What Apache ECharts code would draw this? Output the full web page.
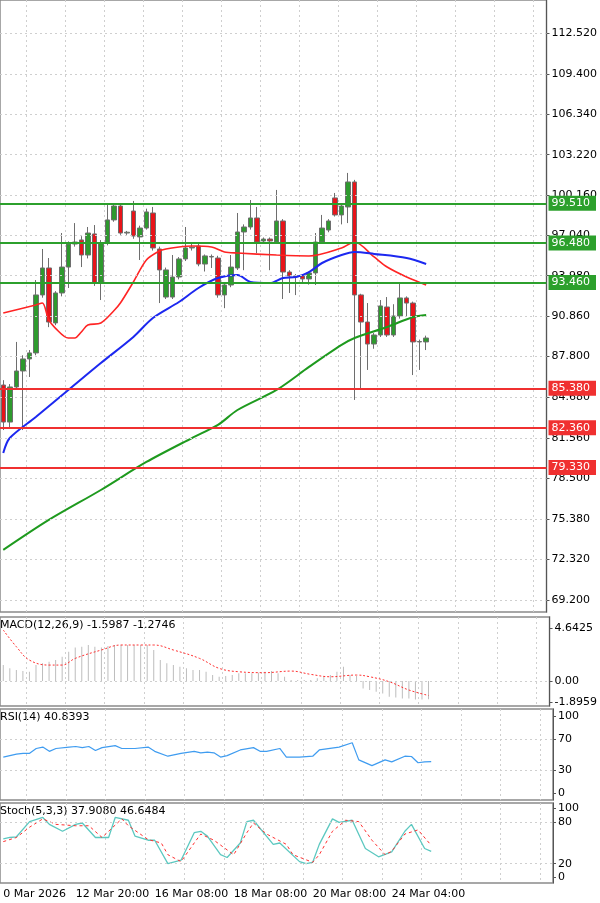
<!DOCTYPE html>
<html>
<head>
<meta charset="utf-8">
<script src="https://cdn.jsdelivr.net/npm/echarts@6/dist/echarts.min.js"></script>
<style>html,body{margin:0;padding:0;background:#fff}#main{width:600px;height:903px}</style>
</head>
<body>
<div id="main"></div>
<script>
// H4 candles: [open, close, low, high]
var candles = [
  [85.63, 82.80, 82.19, 86.00], [82.80, 85.48, 82.40, 85.70], [85.48, 86.70, 85.30, 88.92], [86.70, 87.62, 82.19, 87.90],
  [87.62, 88.08, 86.24, 88.30], [88.08, 92.51, 87.90, 93.65], [92.51, 94.57, 92.30, 96.02], [94.57, 90.44, 90.05, 95.33],
  [90.37, 92.66, 90.20, 92.80], [92.66, 94.64, 92.40, 97.24], [94.64, 96.40, 93.04, 96.60], [96.40, 96.55, 96.20, 98.00],
  [96.71, 95.56, 94.64, 97.00], [95.56, 97.24, 95.30, 97.70], [97.17, 93.42, 93.20, 97.85], [93.42, 96.48, 92.12, 96.70],
  [96.48, 98.24, 96.30, 99.38], [98.24, 99.30, 98.10, 99.50], [99.30, 97.24, 97.10, 99.50], [97.24, 97.30, 97.10, 97.40],
  [98.92, 97.01, 96.80, 99.69], [96.94, 97.62, 95.18, 97.80], [97.62, 98.85, 97.50, 99.10], [98.77, 96.10, 95.90, 99.23],
  [96.02, 94.42, 91.89, 96.20], [92.35, 94.42, 92.20, 94.60], [92.35, 93.88, 92.20, 95.56], [93.88, 95.26, 93.70, 95.40],
  [95.26, 96.10, 95.10, 97.70], [96.10, 96.15, 95.90, 96.40], [96.25, 94.87, 94.70, 96.40], [94.87, 95.49, 94.30, 95.60],
  [95.41, 95.45, 94.57, 95.60], [95.33, 92.51, 92.30, 95.50], [92.51, 93.27, 91.50, 93.40], [93.27, 94.64, 93.10, 95.56],
  [94.57, 97.32, 94.42, 98.77], [97.32, 97.70, 94.40, 97.90], [97.70, 98.39, 97.50, 99.76], [98.39, 96.55, 95.70, 99.23],
  [96.63, 96.78, 96.50, 96.90], [96.78, 96.63, 94.40, 96.90], [96.55, 98.16, 96.40, 100.53], [98.16, 94.26, 92.20, 98.30],
  [94.26, 93.96, 92.66, 94.40], [93.96, 93.90, 92.50, 94.10], [93.96, 93.73, 93.40, 94.00], [93.73, 94.19, 93.30, 94.30],
  [94.19, 96.55, 93.27, 97.24], [96.55, 97.62, 96.40, 98.62], [97.47, 98.16, 97.30, 98.30], [99.92, 98.62, 98.50, 100.30],
  [98.62, 99.30, 97.90, 99.50], [99.23, 101.14, 98.00, 101.83], [101.14, 92.51, 84.49, 101.30], [92.51, 90.44, 85.25, 92.60],
  [90.44, 88.76, 86.78, 91.89], [88.76, 89.45, 88.40, 89.60], [89.45, 91.67, 89.30, 92.12], [91.59, 89.45, 89.30, 92.35],
  [89.45, 90.90, 89.30, 91.80], [90.90, 92.28, 90.70, 93.42], [92.28, 91.89, 90.90, 92.40], [91.89, 88.92, 86.39, 92.00],
  [88.92, 88.95, 86.78, 89.10], [88.92, 89.22, 88.30, 89.40]
];
// moving averages read as [candle index, value]
var maRed = [[0,91.13],[5,91.74],[6,91.89],[7,90.60],[8,89.98],[10,89.22],[11,89.22],[12,89.68],[13,90.21],[15,90.37],[17,91.3],[18,91.89],[20,93.50],[22,95.18],[24,95.87],[25,96.02],[27,96.17],[29,96.25],[32,96.17],[34,95.79],[36,95.71],[42,95.56],[47,95.49],[52,96.10],[54,96.55],[57,95.41],[59,94.64],[62,93.88],[65,93.27]];
var maBlue = [[0,80.44],[1,81.58],[5,83.19],[10,85.25],[15,87.31],[20,89.30],[23,90.75],[27,91.97],[30,93.04],[33,93.80],[36,94.03],[38,93.50],[41,93.42],[43,93.80],[45,93.88],[47,94.26],[49,94.95],[52,95.56],[54,95.79],[57,95.64],[62,95.33],[65,94.87]];
var maGreen = [[0,73.03],[7,75.32],[15,77.61],[22,79.75],[29,81.58],[33,82.58],[36,83.72],[42,85.25],[47,87.01],[52,88.69],[54,89.22],[59,90.06],[63,90.83],[65,90.98]];
var resistLevels = [99.51, 96.48, 93.46];
var supportLevels = [85.38, 82.36, 79.33];
var lastPrice = 89.185;
var priceTicks = [112.52, 109.40, 106.34, 103.22, 100.16, 97.04, 93.98, 90.86, 87.80, 84.68, 81.56, 78.50, 75.38, 72.32, 69.20];

var macdHist = [1.41,1.12,0.97,0.88,0.82,1.41,1.56,1.71,1.85,2.15,2.59,2.97,3.03,3.18,3.03,2.97,3.09,3.18,3.18,3.18,3.18,3.18,3.18,2.74,1.85,1.56,1.41,1.26,1.12,0.97,0.97,0.82,0.53,0.38,0.44,0.53,0.68,0.68,0.68,0.74,0.82,0.88,0.68,0.38,0.09,0.09,0.09,0.09,0.24,0.38,0.53,0.82,1.26,0.53,0.44,-0.65,-0.79,-0.94,-1.09,-1.38,-1.44,-1.53,-1.53,-1.62,-1.62,-1.60];
var macdSignal = [[0,4.5],[2,3.03],[4,1.85],[7,1.41],[9,1.41],[11,2.0],[15,2.74],[18,3.18],[21,3.18],[23,3.18],[26,2.74],[30,2.0],[33,1.12],[36,0.82],[40,0.74],[44,0.88],[47,0.59],[50,0.38],[54,0.53],[56,0.38],[59,-0.06],[62,-0.79],[65,-1.27]];
var rsi = [[0,46.7],[2,50.4],[3,51.5],[4,51.5],[5,57.8],[6,59.6],[7,54.1],[8,57.8],[10,59.6],[11,60.4],[12,58.9],[13,60.4],[14,55.2],[15,58.9],[17,61.5],[18,57.8],[20,57.8],[22,59.6],[23,54.1],[25,47.8],[27,51.5],[29,54.1],[30,52.2],[31,53],[32,52.2],[33,46.7],[34,48.5],[36,55.9],[38,58.9],[39,54.1],[40,54.1],[42,57.8],[43,46.7],[45,46.7],[47,47.8],[48,55.9],[51,59.6],[53,65.2],[54,43],[56,35.6],[58,43],[59,40.4],[61,47.8],[62,47.4],[63,39.3],[64,40.4],[65,40.8]];
var stochMain = [[0,56],[1,58],[2,59],[4,81],[6,87],[7,77],[9,67],[11,77],[12,79],[14,58],[16,58],[17,87],[19,83],[20,60],[22,54],[23,54],[25,20],[27,25],[29,65],[30,67],[31,60],[33,33],[34,29],[36,50],[37,81],[38,83],[41,48],[42,50],[45,23],[46,20],[47,22],[48,48],[50,85],[51,80],[53,83],[55,42],[57,30],[59,37],[61,67],[62,77],[64,42],[65,37.9]];
var stochSignal = [[0,52],[2,58],[4,73],[6,85],[8,77],[11,75],[13,75],[15,58],[18,85],[19,75],[22,55],[24,50],[25,33],[27,23],[29,50],[30,63],[32,54],[35,33],[37,65],[38,79],[40,63],[43,48],[44,33],[47,22],[48,33],[50,67],[52,83],[54,81],[56,54],[58,33],[59,38],[61,63],[63,69],[65,46.6]];
var timeLabels = {0: '0 Mar 2026', 11: '12 Mar 20:00', 23: '16 Mar 08:00', 35: '18 Mar 08:00', 47: '20 Mar 08:00', 59: '24 Mar 04:00'};

var nCat = 84;
var cats = [];
for (var i = 0; i < nCat; i++) cats.push(String(i));

var font = 'Tahoma, "DejaVu Sans", sans-serif';
var grids = [
  {left: -2, right: 47, top: 0, height: 612},
  {left: -2, right: 47, top: 617, height: 89},
  {left: -2, right: 47, top: 709, height: 91},
  {left: -2, right: 47, top: 803, height: 80}
].map(function (g) {
  g.show = true; g.borderColor = '#8a8a8a'; g.borderWidth = 1.5; return g;
});

function xAx(idx, last) {
  return {
    type: 'category', gridIndex: idx, data: cats, boundaryGap: true,
    axisLine: {show: false}, axisTick: {show: false},
    splitLine: {show: true, interval: function (i) { return i % 6 === 4; }, lineStyle: {color: '#cfcfcf', type: [2, 3]}},
    axisLabel: last ? {
      show: true, interval: 0, align: 'left', margin: 6, fontSize: 11, fontFamily: font, color: '#000',
      formatter: function (v, i) { return timeLabels[i] || ''; }
    } : {show: false}
  };
}
function yAx(idx, min, max, ticks, fmt) {
  return {
    type: 'value', gridIndex: idx, position: 'right', min: min, max: max,
    axisLine: {show: true, lineStyle: {color: '#555'}},
    axisTick: {show: true, customValues: ticks, length: 3, lineStyle: {color: '#555'}},
    splitLine: {show: false},
    axisLabel: {customValues: ticks, fontSize: 11, fontFamily: font, color: '#000', margin: 5, formatter: fmt}
  };
}
function hLines(vals) {
  return {silent: true, symbol: 'none', label: {show: false},
    lineStyle: {color: '#cfcfcf', type: [2, 3], width: 1},
    data: vals.map(function (v) { return {yAxis: v}; })};
}
function levelLine(v, color) {
  return {yAxis: v, lineStyle: {color: color, width: 2, type: 'solid'},
    label: {show: true, position: 'end', formatter: v.toFixed(3), color: '#fff', backgroundColor: color,
      padding: [2, 6, 2, 3], fontSize: 11, fontFamily: font, distance: 2}};
}
var levelData = resistLevels.map(function (v) { return levelLine(v, '#2ca02c'); })
  .concat(supportLevels.map(function (v) { return levelLine(v, '#f03030'); }));
levelData.push({yAxis: lastPrice, lineStyle: {opacity: 0},
  label: {show: true, position: 'end', formatter: lastPrice.toFixed(3), color: '#fff', backgroundColor: '#000',
    padding: [2, 6, 2, 3], fontSize: 11, fontFamily: font, distance: 2}});

var labelTxt = function (t, y) {
  return {type: 'text', left: 0, top: y, style: {text: t, font: '11px ' + font, fill: '#000'}};
};

var myChart = echarts.init(document.getElementById('main'));
myChart.setOption({
  backgroundColor: '#fff',
  animation: false,
  grid: grids,
  xAxis: [xAx(0), xAx(1), xAx(2), xAx(3, true)],
  yAxis: [
    yAx(0, 68.29, 115.04, priceTicks, function (v) { return v.toFixed(3); }),
    yAx(1, -2.2, 5.65, [4.6425, 0, -1.8959], function (v) { return v === 0 ? '0.00' : String(v); }),
    yAx(2, -9, 109, [100, 70, 30, 0], function (v) { return String(v); }),
    yAx(3, -8, 108, [100, 80, 20, 0], function (v) { return String(v); })
  ],
  graphic: [
    labelTxt('MACD(12,26,9) -1.5987 -1.2746', 620),
    labelTxt('RSI(14) 40.8393', 712),
    labelTxt('Stoch(5,3,3) 37.9080 46.6484', 806)
  ],
  series: [
    {type: 'line', xAxisIndex: 0, yAxisIndex: 0, data: [], markLine: hLines(priceTicks)},
    {type: 'candlestick', xAxisIndex: 0, yAxisIndex: 0, data: candles, barWidth: 5,
      itemStyle: {color: '#2e9a2e', color0: '#e8141a', borderColor: '#6e6e6e', borderColor0: '#6e6e6e', borderWidth: 1},
      markLine: {silent: true, symbol: 'none', data: levelData}},
    {type: 'line', xAxisIndex: 0, yAxisIndex: 0, data: maRed, showSymbol: false, smooth: 0.3, lineStyle: {color: '#ff2424', width: 1.6}},
    {type: 'line', xAxisIndex: 0, yAxisIndex: 0, data: maBlue, showSymbol: false, smooth: 0.3, lineStyle: {color: '#1c28f0', width: 2}},
    {type: 'line', xAxisIndex: 0, yAxisIndex: 0, data: maGreen, showSymbol: false, smooth: 0.3, lineStyle: {color: '#1e9a1e', width: 2}},
    {type: 'bar', xAxisIndex: 1, yAxisIndex: 1, data: macdHist, barWidth: 1, itemStyle: {color: '#bdbdbd'},
      markLine: hLines([0])},
    {type: 'line', xAxisIndex: 1, yAxisIndex: 1, data: macdSignal, showSymbol: false, smooth: 0.4,
      lineStyle: {color: '#ff3030', width: 1, type: [2, 2]}},
    {type: 'line', xAxisIndex: 2, yAxisIndex: 2, data: rsi, showSymbol: false,
      lineStyle: {color: '#3f9cf0', width: 1.2}, markLine: hLines([70, 30])},
    {type: 'line', xAxisIndex: 3, yAxisIndex: 3, data: stochMain, showSymbol: false,
      lineStyle: {color: '#5cc8c0', width: 1.3}, markLine: hLines([80, 20])},
    {type: 'line', xAxisIndex: 3, yAxisIndex: 3, data: stochSignal, showSymbol: false,
      lineStyle: {color: '#ff3030', width: 1, type: [3, 3]}}
  ]
});
</script>
</body>
</html>
